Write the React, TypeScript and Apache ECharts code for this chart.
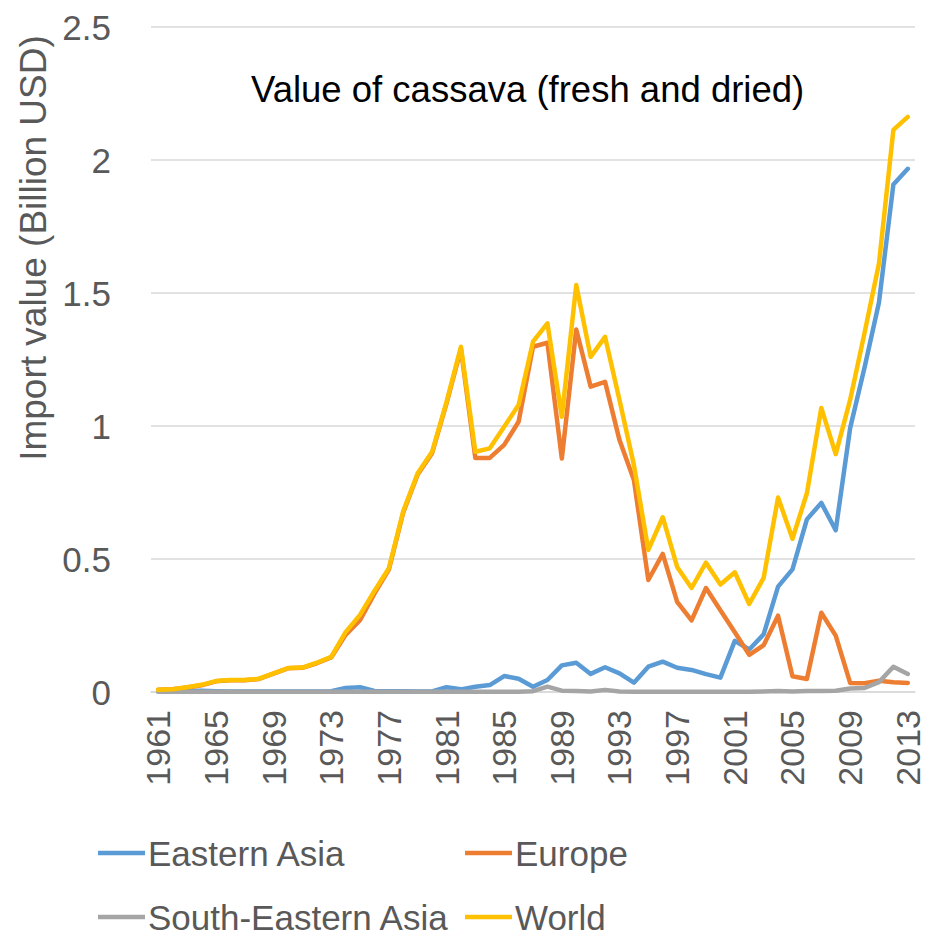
import React, { useEffect, useRef } from "react";
import * as echarts from "echarts";

const years: string[] = [];
for (let y = 1961; y <= 2013; y++) years.push(String(y));

const easternAsia = [
  0.002, 0.002, 0.004, 0.005, 0.003, 0.002, 0.002, 0.002, 0.002, 0.002,
  0.002, 0.002, 0.003, 0.015, 0.018, 0.004, 0.003, 0.003, 0.002, 0.002,
  0.018, 0.010, 0.020, 0.026, 0.060, 0.050, 0.020, 0.045, 0.100, 0.110,
  0.068, 0.093, 0.070, 0.035, 0.095, 0.114, 0.091, 0.083, 0.067, 0.054,
  0.192, 0.160, 0.217, 0.396, 0.461, 0.649, 0.711, 0.608, 0.992, 1.220,
  1.464, 1.908, 1.967,
];

const europe = [
  0.008, 0.010, 0.017, 0.025, 0.040, 0.044, 0.044, 0.049, 0.069, 0.089,
  0.091, 0.108, 0.130, 0.215, 0.270, 0.370, 0.460, 0.675, 0.818, 0.898,
  1.085, 1.290, 0.880, 0.880, 0.929, 1.016, 1.298, 1.313, 0.878, 1.363,
  1.148, 1.166, 0.947, 0.797, 0.421, 0.519, 0.339, 0.269, 0.391, 0.307,
  0.225, 0.140, 0.176, 0.287, 0.059, 0.049, 0.298, 0.212, 0.034, 0.033,
  0.042, 0.037, 0.034,
];

const southEasternAsia = [
  0.001, 0.001, 0.001, 0.001, 0.001, 0.001, 0.001, 0.001, 0.001, 0.001,
  0.001, 0.001, 0.001, 0.001, 0.001, 0.001, 0.001, 0.001, 0.001, 0.001,
  0.001, 0.001, 0.001, 0.001, 0.001, 0.001, 0.003, 0.020, 0.005, 0.004,
  0.002, 0.008, 0.002, 0.001, 0.001, 0.001, 0.001, 0.001, 0.001, 0.001,
  0.001, 0.001, 0.002, 0.004, 0.002, 0.004, 0.004, 0.005, 0.013, 0.015,
  0.037, 0.095, 0.068,
];

const world = [
  0.008, 0.010, 0.018, 0.027, 0.041, 0.045, 0.045, 0.050, 0.070, 0.090,
  0.092, 0.110, 0.132, 0.225, 0.290, 0.380, 0.465, 0.680, 0.822, 0.903,
  1.090, 1.298, 0.903, 0.916, 0.997, 1.079, 1.317, 1.386, 1.035, 1.530,
  1.260, 1.335, 1.098, 0.853, 0.534, 0.657, 0.470, 0.391, 0.486, 0.404,
  0.450, 0.331, 0.429, 0.731, 0.576, 0.747, 1.068, 0.894, 1.098, 1.350,
  1.611, 2.113, 2.162,
];

const seriesNames = ["Eastern Asia", "Europe", "South-Eastern Asia", "World"];
const seriesColors = ["#5B9BD5", "#ED7D31", "#A5A5A5", "#FFC000"];
const seriesData = [easternAsia, europe, southEasternAsia, world];

const FONT = "'Liberation Sans', Arial, sans-serif";
const TEXT = "#595959";

export default function App() {
  const ref = useRef<HTMLDivElement>(null);
  useEffect(() => {
    if (!ref.current) return;
    const chart = echarts.init(ref.current, null, { renderer: "svg" });
    const legendPos = [
      { left: 98, top: 835 },
      { left: 465, top: 835 },
      { left: 98, top: 899 },
      { left: 465, top: 899 },
    ];
    chart.setOption({
      animation: false,
      textStyle: { fontFamily: FONT },
      title: {
        text: "Value of cassava (fresh and dried)",
        left: 251,
        top: 71,
        padding: 0,
        textStyle: { fontFamily: FONT, fontSize: 36.5, fontWeight: "normal", color: "#000000" },
      },
      graphic: [
        {
          type: "text",
          x: 33,
          y: 248,
          rotation: Math.PI / 2,
          style: {
            text: "Import value (Billion USD)",
            fontFamily: FONT,
            fontSize: 37,
            fill: TEXT,
            align: "center",
            verticalAlign: "middle",
          },
        },
      ],
      legend: seriesNames.map((name, i) => ({
        left: legendPos[i].left,
        top: legendPos[i].top,
        padding: 0,
        icon: "rect",
        itemWidth: 47,
        itemHeight: 4.5,
        itemGap: 0,
        data: [name],
        textStyle: {
          fontFamily: FONT,
          fontSize: 35,
          lineHeight: 36,
          color: TEXT,
          padding: [0, 0, 0, -2],
        },
      })),
      grid: { left: 151, right: 11, top: 27, bottom: 244, containLabel: false },
      xAxis: {
        type: "category",
        data: years,
        boundaryGap: true,
        axisLine: { lineStyle: { color: "#D9D9D9", width: 1.5 } },
        axisTick: { show: false },
        axisLabel: {
          interval: 3,
          rotate: 90,
          margin: 18,
          fontFamily: FONT,
          fontSize: 34,
          color: TEXT,
        },
      },
      yAxis: {
        type: "value",
        min: 0,
        max: 2.5,
        interval: 0.5,
        axisLine: { show: false },
        axisTick: { show: false },
        splitLine: { lineStyle: { color: "#D9D9D9", width: 1.5 } },
        axisLabel: { margin: 40, fontFamily: FONT, fontSize: 35, color: TEXT },
      },
      series: seriesNames.map((name, i) => ({
        name,
        type: "line",
        data: seriesData[i],
        symbol: "none",
        color: seriesColors[i],
        lineStyle: { width: 4.5, color: seriesColors[i], join: "round", cap: "round" },
        z: 2 + i,
      })),
    });
    return () => chart.dispose();
  }, []);
  return (
    <div
      ref={ref}
      style={{ position: "fixed", left: 0, top: 0, width: 926, height: 936, background: "#fff" }}
    />
  );
}
